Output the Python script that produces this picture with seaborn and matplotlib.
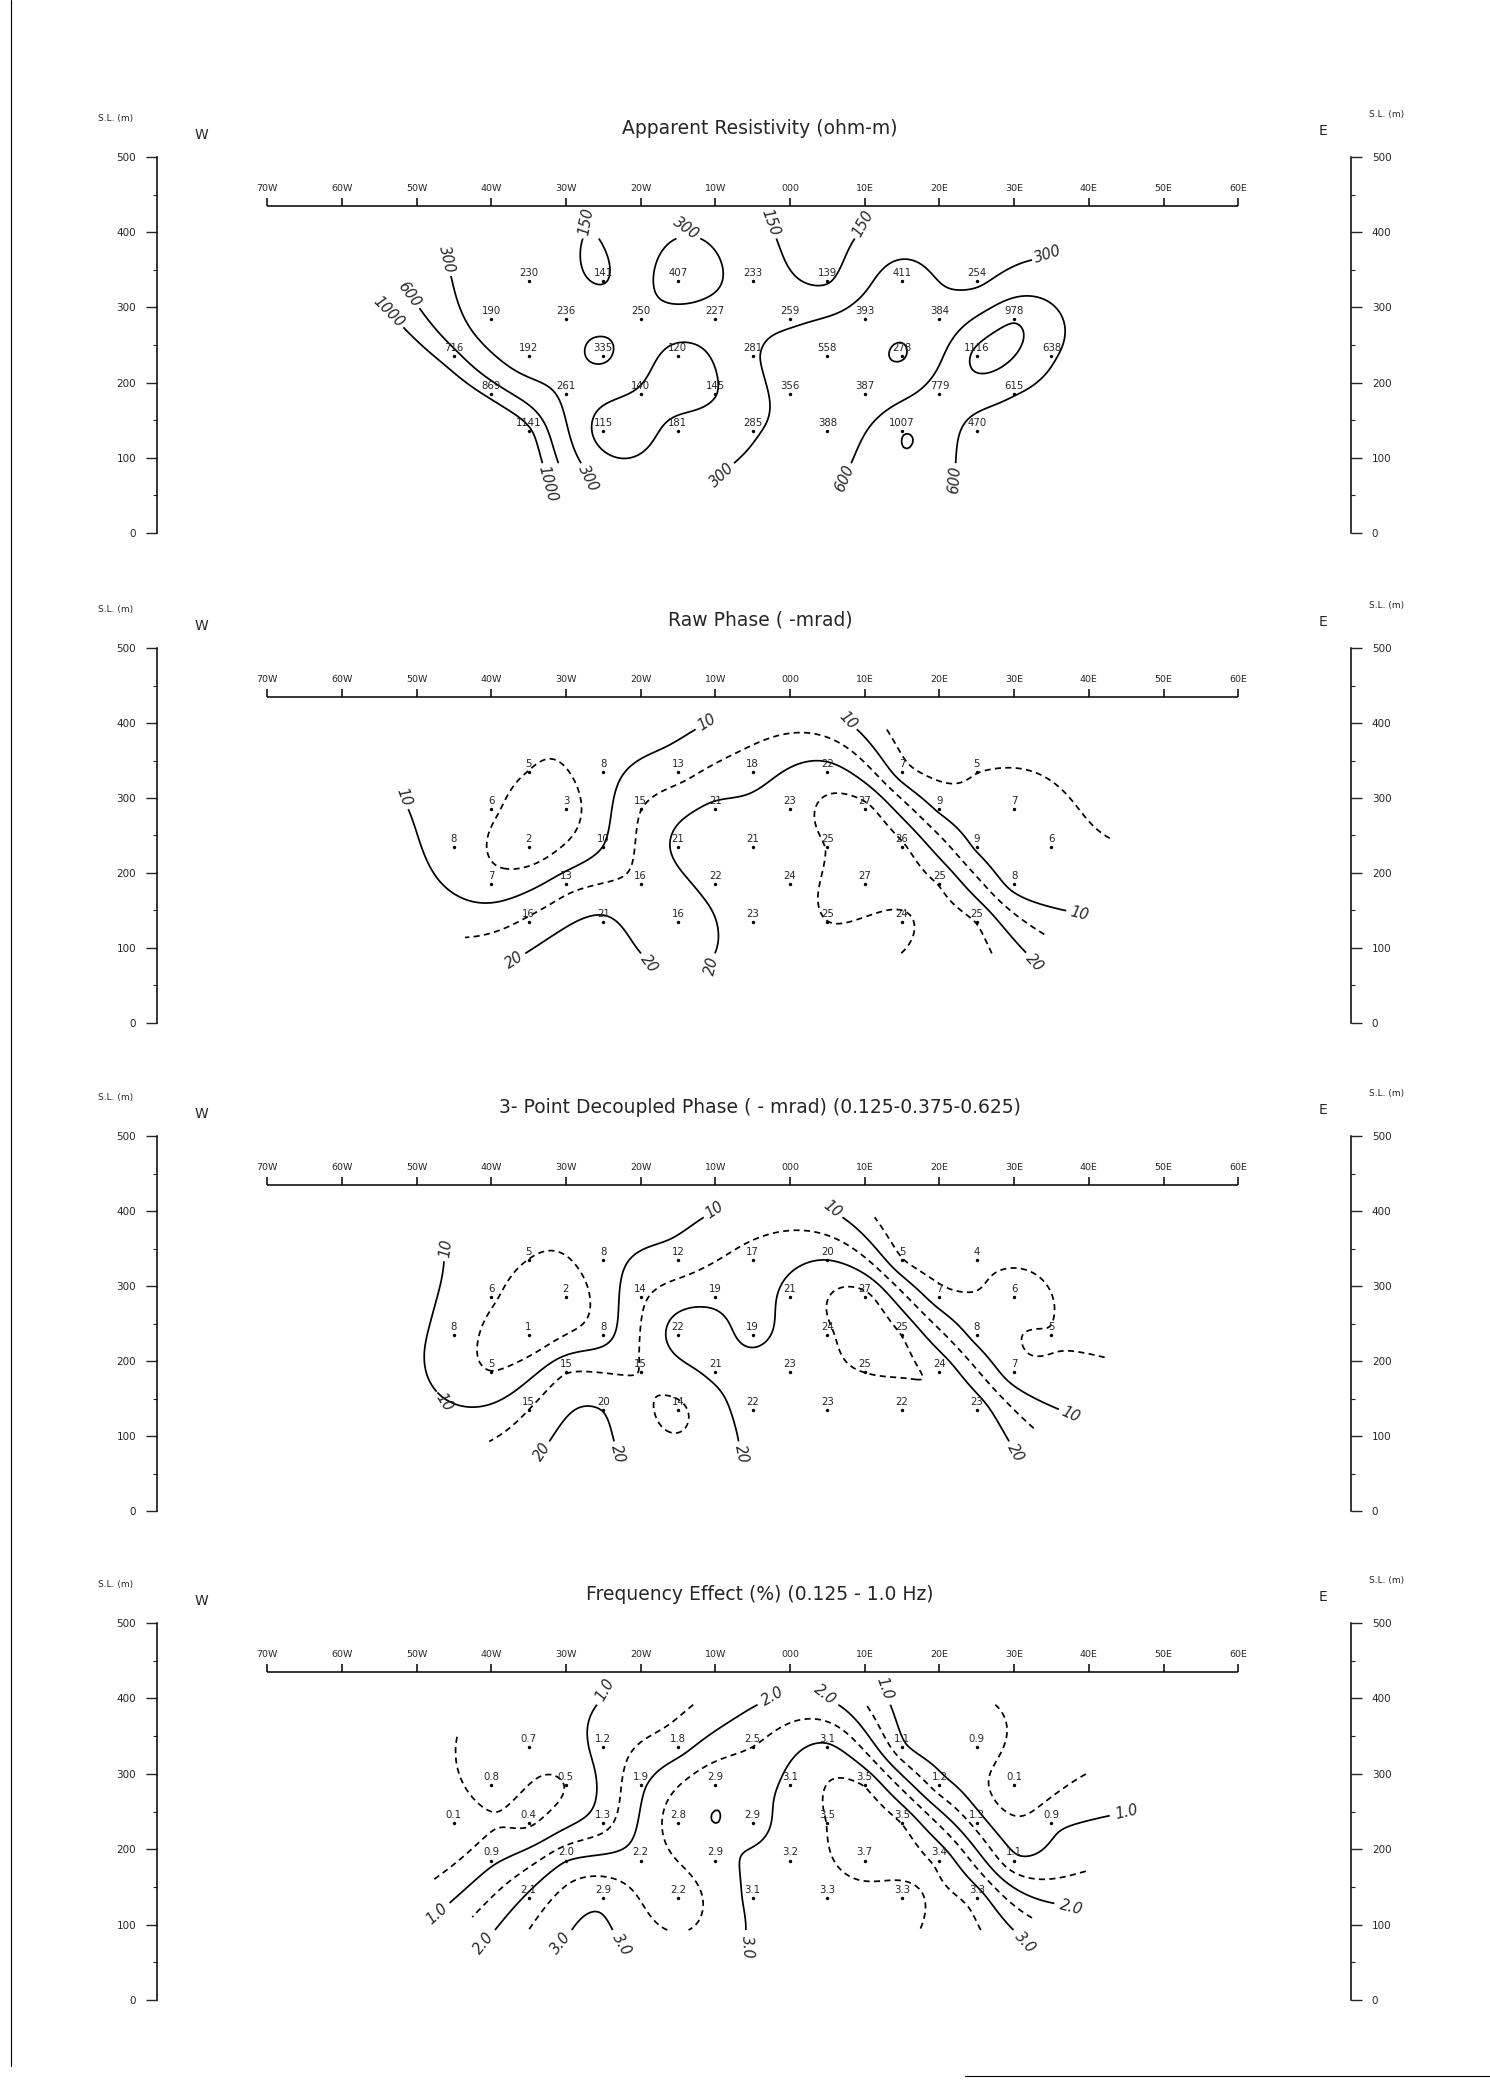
import numpy as np
import pandas as pd
import matplotlib
matplotlib.use("Agg")
import matplotlib.pyplot as plt
from matplotlib.path import Path
from matplotlib.lines import Line2D
import seaborn as sns

# ---------------------------------------------------------------- data
# Station of each reading, row by row (negative = west, positive = east)
ROW_STATIONS = [
    [-35, -25, -15, -5, 5, 15, 25],
    [-40, -30, -20, -10, 0, 10, 20, 30],
    [-45, -35, -25, -15, -5, 5, 15, 25, 35],
    [-40, -30, -20, -10, 0, 10, 20, 30],
    [-35, -25, -15, -5, 5, 15, 25],
]
# Plotting elevation of each row (m above sea level)
ROW_ELEV = [335, 285, 235, 185, 135]

resistivity = [
    [230, 141, 407, 233, 139, 411, 254],
    [190, 236, 250, 227, 259, 393, 384, 978],
    [716, 192, 335, 120, 281, 558, 278, 1116, 638],
    [869, 261, 140, 145, 356, 387, 779, 615],
    [1141, 115, 181, 285, 388, 1007, 470],
]
raw_phase = [
    [5, 8, 13, 18, 22, 7, 5],
    [6, 3, 15, 21, 23, 27, 9, 7],
    [8, 2, 10, 21, 21, 25, 26, 9, 6],
    [7, 13, 16, 22, 24, 27, 25, 8],
    [16, 21, 16, 23, 25, 24, 25],
]
decoupled_phase = [
    [5, 8, 12, 17, 20, 5, 4],
    [6, 2, 14, 19, 21, 27, 7, 6],
    [8, 1, 8, 22, 19, 24, 25, 8, 5],
    [5, 15, 15, 21, 23, 25, 24, 7],
    [15, 20, 14, 22, 23, 22, 23],
]
freq_effect = [
    [0.7, 1.2, 1.8, 2.5, 3.1, 1.1, 0.9],
    [0.8, 0.5, 1.9, 2.9, 3.1, 3.5, 1.2, 0.1],
    [0.1, 0.4, 1.3, 2.8, 2.9, 3.5, 3.5, 1.3, 0.9],
    [0.9, 2.0, 2.2, 2.9, 3.2, 3.7, 3.4, 1.1],
    [2.1, 2.9, 2.2, 3.1, 3.3, 3.3, 3.3],
]

STATION_TICKS = [-70, -60, -50, -40, -30, -20, -10, 0, 10, 20, 30, 40, 50, 60]
STATION_LABELS = ["70W", "60W", "50W", "40W", "30W", "20W", "10W", "000",
                  "10E", "20E", "30E", "40E", "50E", "60E"]
ELEV_TICKS = [0, 100, 200, 300, 400, 500]

TITLES = [
    "Apparent Resistivity (ohm-m)",
    "Raw Phase ( -mrad)",
    "3- Point Decoupled Phase ( - mrad) (0.125-0.375-0.625)",
    "Frequency Effect (%) (0.125 - 1.0 Hz)",
]
LEVELS = [
    [150, 300, 600, 1000],
    [5, 10, 15, 20, 25],
    [5, 10, 15, 20, 25],
    [0.5, 1.0, 1.5, 2.0, 2.5, 3.0, 3.5],
]
DASHED = [
    [],
    [5, 15, 25],
    [5, 15, 25],
    [0.5, 1.5, 2.5, 3.5],
]

# ---------------------------------------------------------------- layout
FIG_W, FIG_H = 1490, 2083
PANEL_TOP_PX = [157, 648, 1136, 1623]     # pixel row of the 500 m tick
PANEL_BOT_PX = [533, 1023, 1511, 2000]    # pixel row of the 0 m tick
AX_LEFT_PX, AX_RIGHT_PX = 157, 1351
ZERO_STATION_PX, PX_PER_STATION = 790, 7.47
XLIM = ((AX_LEFT_PX - ZERO_STATION_PX) / PX_PER_STATION,
        (AX_RIGHT_PX - ZERO_STATION_PX) / PX_PER_STATION)
AXIS_ELEV = 435          # elevation of the station line
TITLE_ELEV = 538
TITLE_STATION = -4

# contouring: reach beyond the readings and vertical limits (m)
REACH = 8.0
CONTOUR_TOP, CONTOUR_BOTTOM = 392, 92
SMOOTHING = 3.0

sns.set_style("white")
plt.rcParams["font.family"] = ["DejaVu Sans"]
plt.rcParams["axes.linewidth"] = 1.1


def long_table(values):
    rows = []
    for r, (stations, vals) in enumerate(zip(ROW_STATIONS, values)):
        for s, v in zip(stations, vals):
            rows.append({"station": s, "elev": ROW_ELEV[r], "value": v})
    return pd.DataFrame(rows)


def tps_surface(px, py, pz, qx, qy, lam):
    """Smoothing thin-plate spline through the readings, evaluated on a grid."""
    n = len(px)
    d = np.hypot(px[:, None] - px[None, :], py[:, None] - py[None, :])
    with np.errstate(divide="ignore", invalid="ignore"):
        K = np.where(d > 0, d ** 2 * np.log(d), 0.0)
    P = np.column_stack([np.ones(n), px, py])
    A = np.zeros((n + 3, n + 3))
    A[:n, :n] = K + lam * np.eye(n)
    A[:n, n:] = P
    A[n:, :n] = P.T
    coef = np.linalg.solve(A, np.concatenate([pz, np.zeros(3)]))
    dq = np.hypot(qx[..., None] - px, qy[..., None] - py)
    with np.errstate(divide="ignore", invalid="ignore"):
        U = np.where(dq > 0, dq ** 2 * np.log(dq), 0.0)
    return U @ coef[:n] + coef[n] + coef[n + 1] * qx + coef[n + 2] * qy, dq.min(axis=-1)


def split_path(p):
    segs, cur = [], []
    codes = p.codes if p.codes is not None else [Path.LINETO] * len(p.vertices)
    for v, c in zip(p.vertices, codes):
        if c == Path.MOVETO:
            if len(cur) > 1:
                segs.append((np.array(cur), False))
            cur = [v]
        elif c == Path.CLOSEPOLY:
            segs.append((np.array(cur), True))
            cur = []
        else:
            cur.append(v)
    if len(cur) > 1:
        segs.append((np.array(cur), False))
    return segs


def label_ends(ax, seg, text, placed):
    pts = ax.transData.transform(seg)
    length = np.sum(np.hypot(*np.diff(pts, axis=0).T))
    if length < 45:
        return
    for run in (pts, pts[::-1]):
        end = run[-1]
        dist = np.hypot(*(run - end).T)
        idx = np.where(dist > 14)[0]
        back = run[idx[-1]] if len(idx) else run[0]
        u = end - back
        u = u / np.hypot(*u)
        ang = np.degrees(np.arctan2(u[1], u[0]))
        half = 0.5 * len(text) * 8.0
        pos = end + u * (half + 5)
        if any(np.hypot(*(pos - q)) < 26 for q in placed):
            continue
        placed.append(pos)
        if ang > 90:
            ang -= 180
        elif ang < -90:
            ang += 180
        x, y = ax.transData.inverted().transform(pos)
        ax.text(x, y, text, rotation=ang, rotation_mode="anchor",
                ha="center", va="center", fontsize=10.5, style="italic",
                clip_on=False)


fig = plt.figure(figsize=(FIG_W / 100, FIG_H / 100), dpi=100)

gx = np.arange(-62, 52.01, 0.4)
gy = np.arange(70, 401, 1.2)
GX, GY = np.meshgrid(gx, gy)

datasets = [resistivity, raw_phase, decoupled_phase, freq_effect]

for k, values in enumerate(datasets):
    top, bot = PANEL_TOP_PX[k], PANEL_BOT_PX[k]
    ax = fig.add_axes([AX_LEFT_PX / FIG_W, 1 - bot / FIG_H,
                       (AX_RIGHT_PX - AX_LEFT_PX) / FIG_W, (bot - top) / FIG_H])
    df = long_table(values)

    # contoured surface
    z = df["value"].to_numpy(float)
    if k == 0:
        z = np.log10(z)
    Z, near = tps_surface(df["station"].to_numpy(float),
                          df["elev"].to_numpy(float) / 10,
                          z, GX, GY / 10, SMOOTHING)
    mask = (near > REACH) | (GY > CONTOUR_TOP) | (GY < CONTOUR_BOTTOM)
    Z = np.ma.masked_where(mask, Z)
    levels = LEVELS[k]
    clev = np.log10(levels) if k == 0 else np.array(levels, float)
    styles = [(0, (3.5, 2.5)) if lv in DASHED[k] else "solid" for lv in levels]
    cs = ax.contour(GX, GY, Z, levels=clev, colors="black",
                    linewidths=1.25, linestyles=styles)

    # reading points and their values
    sns.scatterplot(data=df, x="station", y="elev", ax=ax, color="black",
                    s=6, linewidth=0, legend=False, zorder=3)
    for _, r in df.iterrows():
        txt = f"{r['value']:.1f}" if k == 3 else f"{int(r['value'])}"
        ax.annotate(txt, (r["station"], r["elev"]), xytext=(0, 2.2),
                    textcoords="offset points", ha="center", va="bottom",
                    fontsize=7.3)

    ax.set_xlim(*XLIM)
    ax.set_ylim(0, 500)
    ax.set_xlabel("")
    ax.set_ylabel("")
    ax.set_xticks([])
    ax.set_yticks(ELEV_TICKS)
    ax.set_yticks(np.arange(50, 500, 100), minor=True)
    ax.set_yticklabels([str(v) for v in ELEV_TICKS])
    ax.tick_params(axis="y", which="major", direction="out", length=8,
                   width=1, pad=7, labelsize=7.5, left=True, right=True,
                   labelleft=True, labelright=True)
    ax.tick_params(axis="y", which="minor", direction="out", length=3,
                   width=0.8, left=True, right=True)
    for side in ("top", "bottom"):
        ax.spines[side].set_visible(False)
    for side in ("left", "right"):
        ax.spines[side].set_visible(True)
        ax.spines[side].set_color("black")
    ax.set_facecolor("none")

    # station line along the top of the section
    ax.hlines(AXIS_ELEV, STATION_TICKS[0], STATION_TICKS[-1], color="black",
              lw=1.1, clip_on=False)
    ax.vlines(STATION_TICKS, AXIS_ELEV, AXIS_ELEV + 10, color="black",
              lw=1.1, clip_on=False)
    for s, lab in zip(STATION_TICKS, STATION_LABELS):
        ax.text(s, AXIS_ELEV + 17, lab, ha="center", va="bottom",
                fontsize=6.8, clip_on=False)

    ax.text(TITLE_STATION, TITLE_ELEV, TITLES[k], ha="center", va="center",
            fontsize=13.5, clip_on=False)
    ax.text(XLIM[0] - 5.5, 551, "S.L. (m)", ha="center", va="center",
            fontsize=6.5, clip_on=False)
    ax.text(XLIM[1] + 4.8, 557, "S.L. (m)", ha="center", va="center",
            fontsize=6.5, clip_on=False)
    ax.text(XLIM[0] + 6, 529, "W", ha="center", va="center", fontsize=10,
            clip_on=False)
    ax.text(XLIM[1] - 3.8, 535, "E", ha="center", va="center", fontsize=10,
            clip_on=False)

    # labels at the ends of the solid contour lines
    placed = []
    for lv, p in zip(levels, cs.get_paths()):
        if lv in DASHED[k]:
            continue
        lab = f"{lv:.1f}" if k == 3 else f"{int(lv)}"
        for seg, closed in split_path(p):
            if not closed:
                label_ends(ax, seg, lab, placed)

# page edge
fig.add_artist(Line2D([10.5 / FIG_W, 10.5 / FIG_W], [1, 1 - 2066 / FIG_H],
                      transform=fig.transFigure, color="black", lw=0.8))
fig.add_artist(Line2D([965 / FIG_W, 1], [1 - 2076 / FIG_H, 1 - 2076 / FIG_H],
                      transform=fig.transFigure, color="black", lw=0.8))

fig.savefig("out.png", dpi=100, facecolor="white")
